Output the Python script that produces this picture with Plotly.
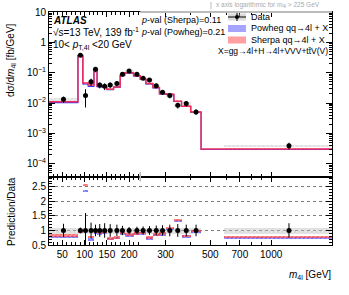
import numpy as np
import plotly.graph_objects as go
from plotly.subplots import make_subplots

# ---------------- data ----------------
edges = [20, 85, 96, 108, 121, 128, 140, 150, 165, 180, 190, 210, 225,
         240, 260, 280, 300, 330, 360, 400, 450, 2000]
data = [0.0132, 0.374, 0.0178, 0.050, 0.129, 0.039, 0.0355, 0.039, 0.044, 0.088,
        0.114, 0.088, 0.066, 0.057, 0.037, 0.0227, 0.0178, 0.0084, 0.0096,
        0.0051, 0.00039]
data_err = [0.23, 0.1, 0.6, 0.27, 0.2, 0.22, 0.25, 0.22, 0.2, 0.16,
            0.12, 0.13, 0.14, 0.15, 0.17, 0.18, 0.2, 0.22, 0.2, 0.2, 0.25]
data_syst = [0.1] * 21
sherpa_ratio = [0.84, 0.98, 2.58, 0.78, 0.97, 0.92, 0.95, 0.73, 0.77, 0.93,
                0.87, 0.90, 0.93, 0.77, 0.87, 0.90, 1.09, 1.37, 0.82, 1.00, 0.78]
powheg_ratio = [0.78, 0.96, 2.37, 0.70, 0.93, 0.88, 0.92, 0.71, 0.75, 0.90,
                0.84, 0.88, 0.90, 0.74, 0.85, 0.87, 1.06, 1.34, 0.80, 0.97, 0.75]
xticks_major = [50, 100, 150, 200, 300, 500, 700, 1000]
xticks_minor = list(range(30, 225, 10)) + [400, 600, 800, 900]

# ---------------- axis transform: linear below 225 GeV, log above ----------------
LIN, DEC, MSW = 0.444, 201.6, 225.0


def u(m):
    m = np.asarray(m, dtype=float)
    return np.where(m <= MSW, m * LIN, MSW * LIN + DEC * np.log10(np.maximum(m, 1e-9) / MSW))


e = np.array(edges, float)
lo, hi = e[:-1], e[1:]
ctr = 0.5 * (lo + hi)
ulo, uhi = u(lo), u(hi)
uc = u(ctr)
uw = uhi - ulo
d = np.array(data)
de = np.array(data_err)
ds = np.array(data_syst)
rs = np.array(sherpa_ratio)
rp = np.array(powheg_ratio)
ps = d * rs
pp = d * rp


def step(vals):
    xs, ys = [], []
    for a, b, v in zip(ulo, uhi, vals):
        xs += [a, b]
        ys += [v, v]
    return xs, ys


fig = make_subplots(rows=2, cols=1, shared_xaxes=True, vertical_spacing=0,
                    row_heights=[0.707, 0.293])

BLUE = "#3838ff"
RED = "#ff2a2a"

# ---------- main panel ----------
fig.add_trace(go.Bar(x=uc, y=2 * ds * d, base=d * (1 - ds), width=uw,
                     marker=dict(color="rgba(215,215,215,0.45)", line=dict(width=0),
                                 pattern=dict(shape="x", fgcolor="#a8a8a8", size=3, solidity=0.3)),
                     showlegend=False), row=1, col=1)
for vals, col, shp in [(pp, BLUE, "\\"), (ps, RED, "/")]:
    fig.add_trace(go.Bar(x=uc, y=0.12 * vals, base=vals * 0.94, width=uw,
                         marker=dict(color="rgba(0,0,0,0)", line=dict(width=0),
                                     pattern=dict(shape=shp, fgcolor=col, size=3, solidity=0.4)),
                         showlegend=False), row=1, col=1)
xs, ys = step(pp)
fig.add_trace(go.Scatter(x=xs, y=ys, mode="lines", line=dict(color=BLUE, width=1.1),
                         showlegend=False), row=1, col=1)
xs, ys = step(ps)
fig.add_trace(go.Scatter(x=xs, y=ys, mode="lines", line=dict(color="#ee2d5c", width=1.5),
                         showlegend=False), row=1, col=1)
fig.add_trace(go.Scatter(x=uc, y=d, mode="markers",
                         marker=dict(color="black", size=5),
                         error_y=dict(type="data", array=de * d, color="black", thickness=1, width=0),
                         showlegend=False), row=1, col=1)

# ---------- ratio panel ----------
fig.add_trace(go.Bar(x=uc, y=2 * ds, base=1 - ds, width=uw,
                     marker=dict(color="rgba(200,200,200,0.4)", line=dict(width=0),
                                 pattern=dict(shape="x", fgcolor="#a0a0a0", size=3, solidity=0.3)),
                     showlegend=False), row=2, col=1)
for vals, col, shp in [(rp, BLUE, "\\"), (rs, RED, "/")]:
    fig.add_trace(go.Bar(x=uc, y=[0.085] * len(vals), base=vals - 0.0425, width=uw,
                         marker=dict(color=col, opacity=0.7, line=dict(width=0),
                                     pattern=dict(shape=shp, fgcolor="white", size=3, solidity=0.3)),
                         showlegend=False), row=2, col=1)
fig.add_trace(go.Scatter(x=uc, y=np.ones_like(d), mode="markers",
                         marker=dict(color="black", size=5),
                         error_y=dict(type="data", array=de, color="black", thickness=1, width=0),
                         showlegend=False), row=2, col=1)

fig.update_layout(barmode="overlay", bargap=0)

FONT = "Liberation Sans, Arial, sans-serif"
urange = [float(u(20)), float(u(2000))]

ymaj = [1e-4, 1e-3, 1e-2, 1e-1, 1, 10]
ylab = ["10<sup>−4</sup>", "10<sup>−3</sup>", "10<sup>−2</sup>", "10<sup>−1</sup>", "1", "10"]
yminor = [k * 10.0 ** p for p in range(-5, 1) for k in range(2, 10)]

axis_common = dict(showline=True, linecolor="black", linewidth=1, mirror="allticks",
                   ticks="inside", tickcolor="black", zeroline=False, automargin=False,
                   tickfont=dict(family=FONT, size=10, color="black"))

fig.update_xaxes(**axis_common, showgrid=False, range=urange, tickmode="array",
                 tickvals=u(xticks_major).tolist(), ticktext=[str(t) for t in xticks_major],
                 ticklen=5,
                 minor=dict(tickvals=u(xticks_minor).tolist(), ticklen=3, ticks="inside",
                            tickcolor="black"))
fig.update_xaxes(showticklabels=False, row=1, col=1)

fig.update_yaxes(**axis_common, showgrid=False, type="log", range=[-4.43, 1.0],
                 tickmode="array", tickvals=ymaj, ticktext=ylab, ticklen=6,
                 minor=dict(tickvals=yminor, ticklen=3, ticks="inside", tickcolor="black"),
                 row=1, col=1)
fig.update_yaxes(**axis_common, range=[0.5, 2.85], tickmode="array",
                 tickvals=[0.5, 1, 1.5, 2, 2.5], ticktext=["0.5", "1", "1.5", "2", "2.5"],
                 ticklen=6, showgrid=True, gridcolor="#7a7a7a", griddash="dot", gridwidth=0.8,
                 minor=dict(dtick=0.1, ticklen=3, ticks="inside", tickcolor="black"),
                 row=2, col=1)

usw = float(u(MSW))
fig.add_shape(type="line", xref="x", yref="paper", x0=usw, x1=urange[1], y0=1, y1=1,
              line=dict(color="#bbbbbb", width=2))
fig.add_shape(type="line", xref="x", yref="paper", x0=usw, x1=usw, y0=0.273, y1=0.313,
              line=dict(color="#bbbbbb", width=1.5))

ann = []


def txt(x, y, s, size=10, color="black", xanchor="left", xref="paper", yref="paper", **kw):
    ann.append(dict(x=x, y=y, xref=xref, yref=yref, text=s, showarrow=False, xanchor=xanchor,
                    yanchor="middle", font=dict(family=FONT, size=size, color=color), **kw))


L, R, T, B = 49, 17, 12, 50
PW, PH = 349 - L - R, 295 - T - B


def px(x):
    return (x - L) / PW


def py(y):
    return 1 - (y - T) / PH


txt(px(51), py(20), "<b><i>ATLAS</i></b>", size=10)
txt(px(51), py(32), "√s=13 TeV, 139 fb<sup>-1</sup>", size=10)
txt(px(51), py(45), "10< <i>p</i><sub>T,4l</sub> <20 GeV", size=10)
txt(px(139), py(20), "<i>p</i>-val (Sherpa)=0.11", size=9)
txt(px(139), py(32), "<i>p</i>-val (Powheg)=0.21", size=9)
txt(px(214), py(5), "x axis logarithmic for <i>m</i><sub>4l</sub> > 225 GeV", size=6.5, color="#aaaaaa")
fig.add_shape(type="line", xref="paper", yref="paper", x0=px(211), x1=px(211), y0=py(2), y1=py(9),
              line=dict(color="#bbbbbb", width=1))

leg_x0, leg_x1 = px(228), px(246)
for i, (lab, col) in enumerate([("Data", "#b0b0b0"),
                                ("Powheg qq→4l + X", BLUE),
                                ("Sherpa qq→4l + X", RED)]):
    yc = 17 + 11.5 * i
    fig.add_shape(type="rect", xref="paper", yref="paper", x0=leg_x0, x1=leg_x1,
                  y0=py(yc + 3.5), y1=py(yc - 3.5), line=dict(width=0),
                  fillcolor=col, opacity=0.45)
    txt(px(249), py(yc), lab, size=9)
    if i == 0:
        fig.add_shape(type="line", xref="paper", yref="paper", x0=leg_x0, x1=leg_x1,
                      y0=py(yc), y1=py(yc), line=dict(color="black", width=1))
        fig.add_shape(type="line", xref="paper", yref="paper", x0=px(237), x1=px(237),
                      y0=py(yc + 4), y1=py(yc - 4), line=dict(color="black", width=1))
        fig.add_shape(type="circle", xref="paper", yref="paper", x0=px(235), x1=px(239),
                      y0=py(yc + 2), y1=py(yc - 2), line=dict(width=0), fillcolor="black")
txt(px(330), py(51), "X=gg→4l+H→4l+VVV+tt̄V(V)", size=8.5, xanchor="right")

txt(-38 / PW, py(60), "dσ/d<i>m</i><sub>4l</sub> [fb/GeV]", size=10, xanchor="center",
    textangle=-90)
txt(-38 / PW, py(212), "Prediction/Data", size=10, xanchor="center", textangle=-90)
txt(px(333), py(275), "<i>m</i><sub>4l</sub> [GeV]", size=10, xanchor="right")

fig.update_layout(annotations=ann, width=349, height=295,
                  margin=dict(l=L, r=R, t=T, b=B, autoexpand=False), paper_bgcolor="white",
                  plot_bgcolor="white", showlegend=False)

fig.write_html("out.html", config={"displayModeBar": False},
               post_script="document.body.style.margin='0px';")
